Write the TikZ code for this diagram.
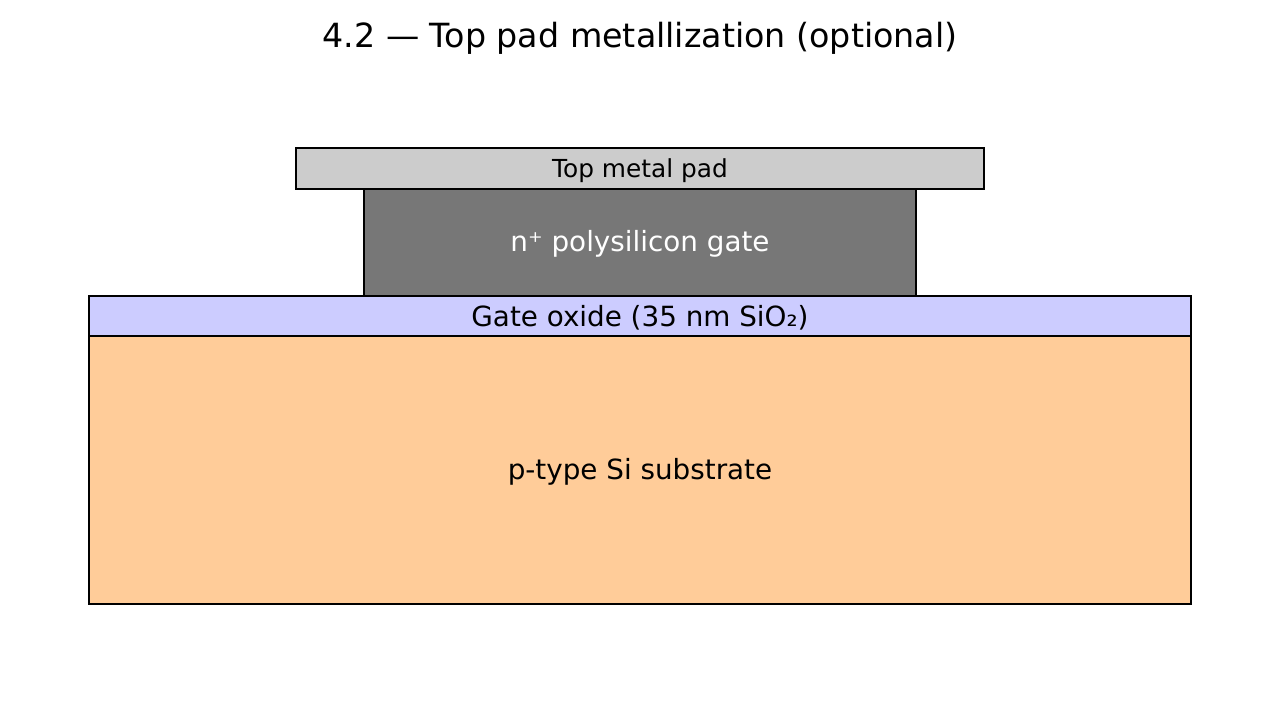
\documentclass[tikz,border=0pt]{standalone}
\usepackage{fontspec}
\setmainfont{DejaVu Sans}
\definecolor{padc}{HTML}{CCCCCC}
\definecolor{gatec}{HTML}{777777}
\definecolor{oxc}{HTML}{CCCCFF}
\definecolor{subc}{HTML}{FFCC99}
\begin{document}
\begin{tikzpicture}[x=1pt,y=-1pt,
  layer/.style={draw=black,line width=2.4pt},
  lbl/.style={font=\fontsize{27.8}{33}\selectfont,inner sep=0pt}]
\useasboundingbox (0,0) rectangle (1280,704);
\fill[white] (0,0) rectangle (1280,704);
\draw[layer,fill=subc] (89,336) rectangle (1191,604);
\draw[layer,fill=oxc] (89,296) rectangle (1191,336);
\draw[layer,fill=gatec] (364,189) rectangle (916,296);
\draw[layer,fill=padc] (296,148) rectangle (984,189);
\node[lbl] (sub) at (640,472) {p-type Si substrate};
\node[lbl] (ox) at (640,318) {Gate oxide (35 nm SiO₂)};
\node[lbl,text=white] (gate) at (640,244) {n⁺ polysilicon gate};
\node[lbl,font=\fontsize{24.8}{29}\selectfont] (pad) at (640,171) {Top metal pad};
\node[lbl,font=\fontsize{33.3}{40}\selectfont] (title) at (640,38) {4.2 — Top pad metallization (optional)};
\end{tikzpicture}
\end{document}
